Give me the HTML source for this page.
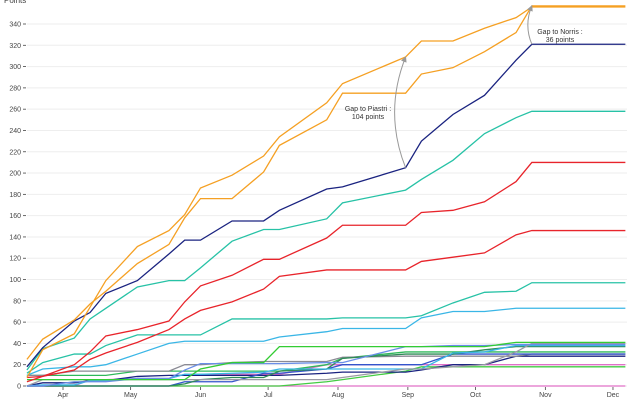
<!DOCTYPE html>
<html><head><meta charset="utf-8">
<style>
html,body{margin:0;padding:0;background:#fff;}
svg{display:block;font-family:"Liberation Sans",sans-serif;}
</style></head>
<body>
<svg id="chart" width="640" height="400" viewBox="0 0 640 400"></svg>
<script>
// race days, offset in days from 1 Apr 2025
const raceDays = [-16,-9,5,12,19,33,47,54,61,75,89,96,117,124,152,159,173,187,201,208];
const endDay = 249.5;
const yTicks = [0,20,40,60,80,100,120,140,160,180,200,220,240,260,280,300,320,340];
const monthLabels = ["Apr","May","Jun","Jul","Aug","Sep","Oct","Nov","Dec"];
const monthDays = [0,30,61,91,122,153,183,214,244];
const driverNames = ["Norris","Piastri","Verstappen","Russell","Leclerc","Hamilton","Antonelli","Albon","Hulkenberg","Hadjar","Bearman","Sainz","Alonso","Lawson","Ocon","Stroll","Tsunoda","Gasly","Bortoleto","Colapinto"];
const driverColors = ["#f5a023","#f5a023","#1a2380","#27c2a6","#e8242b","#e8242b","#27c2a6","#3ab6e6","#33cc33","#6a8ee8","#9a9aa4","#3ab6e6","#2e8b57","#3355cc","#8a8a94","#2fb85a","#1a2380","#e070c8","#44cc44","#e070c8"];
const norris = [25,44,62,77,89,115,133,158,176,176,201,226,250,275,275,293,299,314,332,357];
const piastri = [8,34,49,74,99,131,146,161,186,198,216,234,266,284,309,324,324,336,346,356];
const verstappen = [18,36,61,69,87,99,124,137,137,155,155,165,185,187,205,230,255,273,306,321];
const russell = [15,35,45,63,73,93,99,99,111,136,147,147,157,172,184,194,212,237,252,258];
const leclerc = [8,9,20,32,47,53,61,79,94,104,119,119,139,151,151,163,165,173,192,210];
const hamilton = [4,9,15,25,31,41,53,63,71,79,91,103,109,109,109,117,121,125,142,146];
const antonelli = [12,22,30,30,38,48,48,48,48,63,63,63,63,64,64,66,78,88,89,97];
const albon = [10,16,18,18,20,30,40,42,42,42,42,46,51,54,54,64,70,70,73,73];
const hulkenberg = [6,6,6,6,6,6,6,6,16,22,22,37,37,37,37,37,37,37,41,41];
const hadjar = [0,0,4,4,4,7,7,15,21,21,21,21,22,22,37,37,38,38,39,39];
const bearman = [0,6,6,6,6,6,6,6,6,6,6,6,6,8,16,16,18,20,32,40];
const sainz = [0,1,1,5,5,7,7,11,11,12,13,16,16,16,16,16,31,32,38,38];
const alonso = [0,0,0,0,0,0,0,2,6,8,8,14,16,26,30,30,30,34,37,37];
const lawson = [0,0,0,0,0,0,0,4,4,4,12,12,16,20,20,20,30,30,30,30];
const ocon = [10,10,14,14,14,14,14,20,20,22,23,23,23,27,28,28,28,28,28,30];
const stroll = [10,10,10,10,10,14,14,14,14,14,14,14,20,26,32,32,32,32,32,32];
const tsunoda = [0,3,3,5,5,9,10,10,10,10,10,10,12,13,13,15,20,20,28,28];
const gasly = [0,0,0,6,6,7,7,11,11,11,11,11,20,20,20,20,20,20,20,20];
const bortoleto = [0,0,0,0,0,0,0,0,0,0,0,0,4,6,14,18,18,18,18,18];
const colapinto = [0,0,0,0,0,0,0,0,0,0,0,0,0,0,0,0,0,0,0,0];
const series = [norris,piastri,verstappen,russell,leclerc,hamilton,antonelli,albon,hulkenberg,hadjar,bearman,sainz,alonso,lawson,ocon,stroll,tsunoda,gasly,bortoleto,colapinto];

const NS="http://www.w3.org/2000/svg";
const svg=document.getElementById('chart');
const x=d=>63+d*2.254;
const y=v=>386-v*1.0647;
function mk(tag,attrs,parent){const e=document.createElementNS(NS,tag);for(const k in attrs)e.setAttribute(k,attrs[k]);(parent||svg).appendChild(e);return e;}

const title=mk('text',{x:4,y:3,'font-size':8,fill:'#444'});


title.textContent='Points';

yTicks.forEach(t=>{
  const g=mk('line',{x1:27,x2:627,y1:y(t),y2:y(t),stroke:'#eeeeee','stroke-width':1});
  
  
  mk('line',{x1:23,x2:26,y1:y(t),y2:y(t),stroke:'#444','stroke-width':0.8});
  const l=mk('text',{x:21,y:y(t)+2.5,'font-size':7,fill:'#444','text-anchor':'end'});
  
  
  l.textContent=t;
});
monthLabels.forEach((m,i)=>{
  mk('line',{x1:x(monthDays[i]),x2:x(monthDays[i]),y1:387,y2:390,stroke:'#444','stroke-width':0.8});
  const l=mk('text',{x:x(monthDays[i]),y:397,'font-size':7,fill:'#444','text-anchor':'middle'});
  
  
  l.textContent=m;
});
const yr=mk('text',{x:x(0),y:405,'font-size':7,fill:'#444','text-anchor':'middle'});
yr.textContent='2025';

for(let s=series.length-1;s>=0;s--){
  const vals=series[s];
  let pts=raceDays.map((d,i)=>x(d)+','+y(vals[i]));
  pts.push(x(endDay)+','+y(vals[vals.length-1]));
  const p=mk('polyline',{points:pts.join(' '),fill:'none',stroke:driverColors[s],'stroke-width':1.3});
  
  
}

// annotations
const iA=14, iB=19;
mk('defs',{}).innerHTML='<marker id="ah" markerWidth="6" markerHeight="6" refX="5" refY="3" orient="auto"><path d="M0,0 L6,3 L0,6 z" fill="#999"/></marker>';
const ax=x(raceDays[iA]);
const a1=mk('path',{d:`M${ax},${y(verstappen[iA])} Q${ax-22},${(y(verstappen[iA])+y(piastri[iA]))/2} ${ax},${y(piastri[iA])}`,fill:'none',stroke:'#999','stroke-width':1,'marker-end':'url(#ah)'});


const t1=mk('text',{x:368,y:111,'font-size':7,fill:'#333','text-anchor':'middle'});


t1.innerHTML='<tspan x="368">Gap to Piastri :</tspan><tspan x="368" dy="8">104 points</tspan>';
const bx=x(raceDays[iB]);
const a2=mk('path',{d:`M${bx},${y(verstappen[iB])} Q${bx-8},${(y(verstappen[iB])+y(norris[iB]))/2} ${bx},${y(norris[iB])}`,fill:'none',stroke:'#999','stroke-width':1,'marker-end':'url(#ah)'});


const t2=mk('text',{x:560,y:34,'font-size':7,fill:'#333','text-anchor':'middle'});


t2.innerHTML='<tspan x="560">Gap to Norris :</tspan><tspan x="560" dy="8">36 points</tspan>';
</script>
</body></html>
